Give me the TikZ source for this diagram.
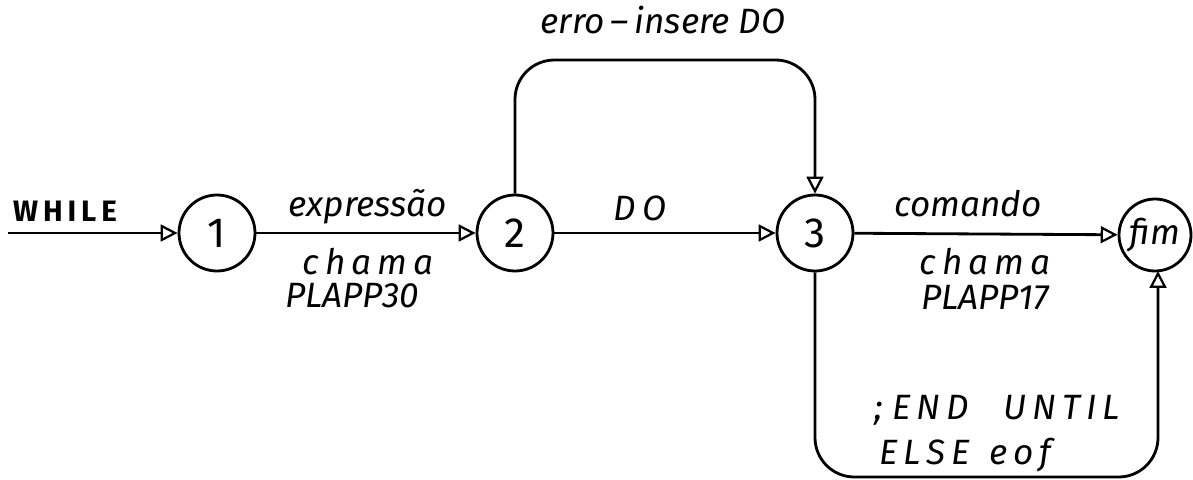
\documentclass[tikz,border=0pt]{standalone}
\usepackage{fontspec}
\setmainfont{Fira Sans}
\usetikzlibrary{arrows.meta}
\begin{document}
\begin{tikzpicture}[x=0.025cm,y=-0.025cm,
  state/.style={circle,draw,line width=2pt,inner sep=0pt,font=\fontsize{30}{34}\selectfont},
  edge/.style={line width=2pt,-{Triangle[open,length=12pt,width=12pt,line width=1.6pt]},rounded corners=28},
  lbl/.style={font=\fontsize{25}{29}\selectfont\itshape,inner sep=0pt}]
  \useasboundingbox (0,0) rectangle (1193,480);
  \node[state,minimum size=76*0.025cm] (s1) at (217,233) {1};
  \node[state,minimum size=76*0.025cm] (s2) at (515,233) {2};
  \node[state,minimum size=76*0.025cm] (s3) at (815,233) {3};
  \node[state,minimum size=72*0.025cm,font=\fontsize{25}{29}\selectfont\itshape] (fim) at (1155,235) {fim};
  \coordinate (in) at (8,233);
  % straight transitions
  \draw[edge] (in) -- (s1);
  \draw[edge] (s1) -- (s2);
  \draw[edge] (s2) -- (s3);
  \draw[edge] (s3) -- (fim);
  % error recovery loop over the top
  \draw[edge] (s2.north) -- (515,60) -- (815,60) -- (s3.north);
  % terminator loop underneath
  \draw[edge] (s3.south) -- (815,477) -- (1158,477) -- (1158,271);
  % labels
  \node[lbl,font=\fontsize{21}{25}\selectfont\bfseries] (lw) at (65,211) {W\,H\,I\,L\,E};
  \node[lbl] (le) at (368,207) {expressão};
  \node[lbl] (lc1) at (368,262) {c\,h\,a\,m\,a};
  \node[lbl] (lp1) at (352,296) {PLAPP30};
  \node[lbl] (ldo) at (640,208) {D\,O};
  \node[lbl] (ler) at (663,20) {erro\,–\,insere DO};
  \node[lbl] (lcm) at (968,204) {comando};
  \node[lbl] (lc2) at (985,262) {c\,h\,a\,m\,a};
  \node[lbl] (lp2) at (985,298) {PLAPP17};
  \node[lbl] (lend) at (997,410) {; E\,N\,D\quad U\,N\,T\,I\,L};
  \node[lbl] (lels) at (965,455) {E\,L\,S\,E\; e\,o\,f};
\end{tikzpicture}
\end{document}
